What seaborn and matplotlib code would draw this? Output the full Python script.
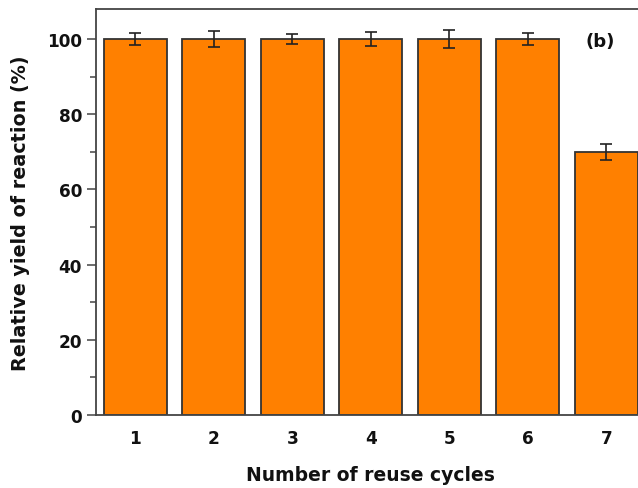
import matplotlib
matplotlib.use("Agg")
import matplotlib.pyplot as plt
import seaborn as sns
import pandas as pd
import numpy as np
from matplotlib.ticker import MultipleLocator

cycles = ["1", "2", "3", "4", "5", "6", "7"]
yield_pct = [100, 100, 100, 100, 100, 100, 70]
errors = [1.7, 2.1, 1.4, 1.85, 2.3, 1.7, 2.1]

df = pd.DataFrame({"cycle": cycles, "yield": yield_pct, "err": errors})

sns.set_style("ticks")
plt.rcParams["font.family"] = ["DejaVu Sans"]
plt.rcParams["font.weight"] = "bold"

fig = plt.figure(figsize=(6.38, 4.89), dpi=100)
ax = fig.add_axes([96/638, 73/489, 549.5/638, 406/489])

sns.barplot(data=df, x="cycle", y="yield", color="#FF8000", saturation=1,
            width=0.8, edgecolor="#333333", linewidth=1.3, errorbar=None, ax=ax)
ax.errorbar(np.arange(len(cycles)), df["yield"], yerr=df["err"], fmt="none",
            ecolor="#222222", elinewidth=1.2, capsize=4, capthick=1.2)

ax.set_xlim(-0.5, 6.5)
ax.set_ylim(0, 108)
ax.yaxis.set_major_locator(MultipleLocator(20))
ax.yaxis.set_minor_locator(MultipleLocator(10))

for s in ax.spines.values():
    s.set_visible(True)
    s.set_color("#444444")
    s.set_linewidth(1.3)

ax.tick_params(axis="y", which="major", direction="out", length=6.5, width=1.1,
               color="#444444", labelsize=12.2, pad=3.6)
ax.tick_params(axis="y", which="minor", direction="out", length=4, width=1.1,
               color="#444444")
ax.tick_params(axis="x", which="both", length=0, labelsize=12.2, pad=10)
for lab in ax.get_xticklabels() + ax.get_yticklabels():
    lab.set_fontweight("bold")
    lab.set_color("#111111")

ax.set_xlabel("Number of reuse cycles", fontsize=13.5, fontweight="bold",
              labelpad=13, color="#111111")
ax.set_ylabel("Relative yield of reaction (%)", fontsize=13.8, fontweight="bold",
              labelpad=12, color="#111111")

ax.text(5.92, 99.5, "(b)", fontsize=13, fontweight="bold", ha="center",
        va="center", color="#111111")

fig.savefig("out.png", dpi=100)
